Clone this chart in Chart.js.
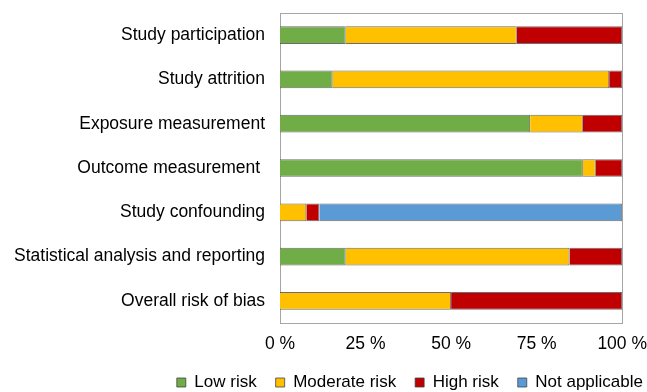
<!DOCTYPE html>
<html>
<head>
<meta charset="utf-8">
<script src="https://cdn.jsdelivr.net/npm/chart.js@4"></script>
<style>
  html, body { margin: 0; padding: 0; background: #fff; }
  #wrap { width: 647px; height: 392px; }
</style>
</head>
<body>
<div id="wrap"><canvas id="risk-chart"></canvas></div>
<script>
var domains = ["Study participation", "Study attrition", "Exposure measurement", "Outcome measurement ",
    "Study confounding", "Statistical analysis and reporting", "Overall risk of bias"];
var lowRisk = [19.2, 15.4, 73.1, 88.5, 0, 19.2, 0];
var moderateRisk = [50.0, 80.8, 15.4, 3.8, 7.7, 65.4, 50.0];
var highRisk = [30.8, 3.8, 11.5, 7.7, 3.8, 15.4, 50.0];
var notApplicable = [0, 0, 0, 0, 88.5, 0, 0];
var xTicks = [0, 25, 50, 75, 100];

// draws the gray frame round the plot area
var frame = {
    id: "frame",
    beforeDatasetsDraw: function(chart) {
        var a = chart.chartArea, c = chart.ctx;
        c.save();
        c.strokeStyle = "#a6a6a6";
        c.lineWidth = 1;
        c.strokeRect(Math.round(a.left) + 0.5, Math.round(a.top) + 0.5,
            Math.round(a.right - a.left), Math.round(a.bottom - a.top));
        c.restore();
    }
};

var font = { family: "Liberation Sans", size: 17.5 };
var barBorder = "rgba(60,60,60,0.75)";

var ctx = document.getElementById("risk-chart");
var chartGraph = new Chart(ctx, {
    type: "bar",
    data: {
        labels: domains,
        datasets: [
            { label: "Low risk", data: lowRisk, backgroundColor: "#70AD47", borderColor: barBorder, borderWidth: 1 },
            { label: "Moderate risk", data: moderateRisk, backgroundColor: "#FFC000", borderColor: barBorder, borderWidth: 1 },
            { label: "High risk", data: highRisk, backgroundColor: "#C00000", borderColor: barBorder, borderWidth: 1 },
            { label: "Not applicable", data: notApplicable, backgroundColor: "#5B9BD5", borderColor: barBorder, borderWidth: 1 }
        ],
    },
    options: {
        indexAxis: "y",
        responsive: true,
        maintainAspectRatio: false,
        animation: false,
        layout: { padding: { top: 13, right: -15, left: 0, bottom: -9 } },
        datasets: { bar: { categoryPercentage: 1, barPercentage: 0.4 } },
        scales: {
            x: {
                stacked: true,
                min: 0,
                max: 100,
                grid: { display: false, tickLength: 11 },
                border: { display: false },
                afterBuildTicks: function(scale) {
                    scale.ticks = xTicks.map(function(v) { return { value: v }; });
                },
                ticks: {
                    color: "#000",
                    font: font,
                    padding: 0,
                    maxRotation: 0,
                    callback: function(v) { return v + " %"; }
                }
            },
            y: {
                stacked: true,
                grid: { display: false, tickLength: 15 },
                border: { display: false },
                afterFit: function(scale) { scale.width = 280; },
                ticks: {
                    color: "#000",
                    font: font,
                    padding: 0
                }
            }
        },
        plugins: {
            tooltip: { enabled: false },
            legend: {
                position: "bottom",
                align: "end",
                labels: {
                    color: "#000",
                    font: { family: "Liberation Sans", size: 17 },
                    boxWidth: 9,
                    boxHeight: 9,
                    padding: 19
                }
            }
        }
    },
    plugins: [frame]
});
</script>
</body>
</html>
